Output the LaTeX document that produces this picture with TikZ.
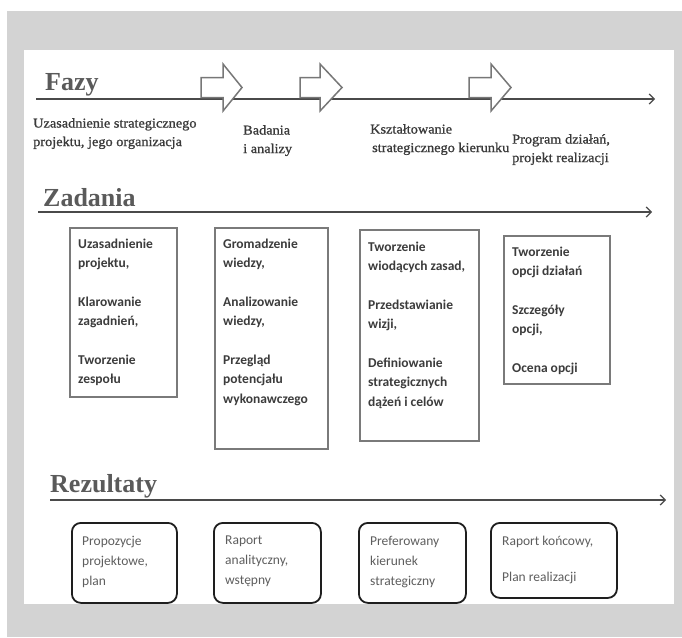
\documentclass[tikz,border=0pt]{standalone}
\usepackage{fontspec}
\setmainfont{Liberation Serif}
\newfontfamily\headfont{Liberation Serif}
\newfontfamily\phasefont[FakeStretch=1.06,FakeBold=1]{Liberation Serif}
\newfontfamily\boxfont{Carlito}
\usetikzlibrary{arrows.meta}
\definecolor{framegray}{HTML}{D3D3D3}
\definecolor{headgray}{HTML}{5A5A5A}
\definecolor{linegray}{HTML}{4A4A4A}
\definecolor{phasetext}{HTML}{3A3A3A}
\definecolor{taskborder}{HTML}{7A7A7A}
\definecolor{tasktext}{HTML}{3C3C3C}
\definecolor{restext}{HTML}{5E5E5E}
\definecolor{resborder}{HTML}{1E1E1E}
\definecolor{hollowgray}{HTML}{777777}
\tikzset{
  heading/.style={font=\headfont\bfseries\fontsize{26}{30}\selectfont, text=headgray, anchor=base west, inner sep=0pt},
  axis/.style={draw=linegray, line width=1.2pt, -{Straight Barb[length=5pt,width=10pt]}},
  phase/.style={font=\phasefont\fontsize{13.5}{18.5}\selectfont, text=phasetext, align=left, anchor=north west, inner sep=0pt},
  taskbox/.style={draw=taskborder, line width=2.2pt, anchor=north west, inner sep=0pt},
  tasktxt/.style={font=\boxfont\bfseries\fontsize{13.5}{19.3}\selectfont, text=tasktext, align=left, anchor=north west, inner sep=0pt},
  resbox/.style={draw=resborder, line width=1.8pt, rounded corners=9pt, anchor=north west, inner sep=0pt},
  restxt/.style={font=\boxfont\fontsize{13.5}{20}\selectfont, text=restext, align=left, anchor=north west, inner sep=0pt},
  hollow/.style={draw=hollowgray, line width=1.5pt, fill=white, line join=miter}
}
\newcommand{\hollowarrow}[3]{%
  \draw[hollow] (#1,77.5) -- (#2,77.5) -- (#2,64) -- (#3,87.5) -- (#2,111) -- (#2,97.5) -- (#1,97.5) -- cycle;}
\begin{document}
\begin{tikzpicture}[x=1pt,y=-1pt]
\useasboundingbox (0,0) rectangle (682,637);
\fill[white] (0,0) rectangle (682,637);
\fill[framegray] (7,11) rectangle (682,637);
\fill[white] (24,50) rectangle (674,604);

% axes
\coordinate (fs) at (36,99);  \coordinate (fe) at (655,99);
\coordinate (zs) at (38,212); \coordinate (ze) at (652,212);
\coordinate (rs) at (50,500); \coordinate (re) at (666,500);
\draw[axis] (fs) -- (fe);
\draw[axis] (zs) -- (ze);
\draw[axis] (rs) -- (re);

% hollow phase arrows
\hollowarrow{201}{223}{242}
\hollowarrow{300}{320}{342}
\hollowarrow{469}{491}{511}

% headings
\node[heading] (fazy) at (45,90) {Fazy};
\node[heading] (zadania) at (43,206) {Zadania};
\node[heading] (rezultaty) at (50,492) {Rezultaty};

% phase labels
\node[phase] (p1) at (33,118) {Uzasadnienie strategicznego\\projektu, jego organizacja};
\node[phase] (p2) at (243,125) {Badania\\i analizy};
\node[phase] (p3) at (370,124) {Kształtowanie\\\hspace*{2pt}strategicznego kierunku};
\node[phase] (p4) at (512,134) {Program działań,\\projekt realizacji};

% task boxes
\node[taskbox, minimum width=107pt, minimum height=169pt] (t1) at (69,227) {};
\node[taskbox, minimum width=113pt, minimum height=221pt] (t2) at (214,227) {};
\node[taskbox, minimum width=119pt, minimum height=211pt] (t3) at (359,229) {};
\node[taskbox, minimum width=106pt, minimum height=148pt] (t4) at (503,235) {};

\node[tasktxt] (tt1) at (78,239) {Uzasadnienie\\projektu,\\[19.3pt]Klarowanie\\zagadnień,\\[19.3pt]Tworzenie\\zespołu};
\node[tasktxt] (tt2) at (223,239) {Gromadzenie\\wiedzy,\\[19.3pt]Analizowanie\\wiedzy,\\[19.3pt]Przegląd\\potencjału\\wykonawczego};
\node[tasktxt] (tt3) at (368,242) {Tworzenie\\wiodących zasad,\\[19.3pt]Przedstawianie\\wizji,\\[19.3pt]Definiowanie\\strategicznych\\dążeń i celów};
\node[tasktxt] (tt4) at (512,247) {Tworzenie\\opcji działań\\[19.3pt]Szczegóły\\opcji,\\[19.3pt]Ocena opcji};

% result boxes
\node[resbox, minimum width=105pt, minimum height=80pt] (r1) at (71,522) {};
\node[resbox, minimum width=107pt, minimum height=80pt] (r2) at (213,522) {};
\node[resbox, minimum width=107pt, minimum height=80pt] (r3) at (358,522) {};
\node[resbox, minimum width=126pt, minimum height=75pt] (r4) at (490,522) {};

\node[restxt] (rt1) at (82,536) {Propozycje\\projektowe,\\plan};
\node[restxt] (rt2) at (225,536) {Raport\\analityczny,\\wstępny};
\node[restxt] (rt3) at (370,536) {Preferowany\\kierunek\\strategiczny};
\node[restxt, font=\boxfont\fontsize{13.5}{18}\selectfont] (rt4) at (502,536) {Raport końcowy,\\[18pt]Plan realizacji};
\end{tikzpicture}
\end{document}
